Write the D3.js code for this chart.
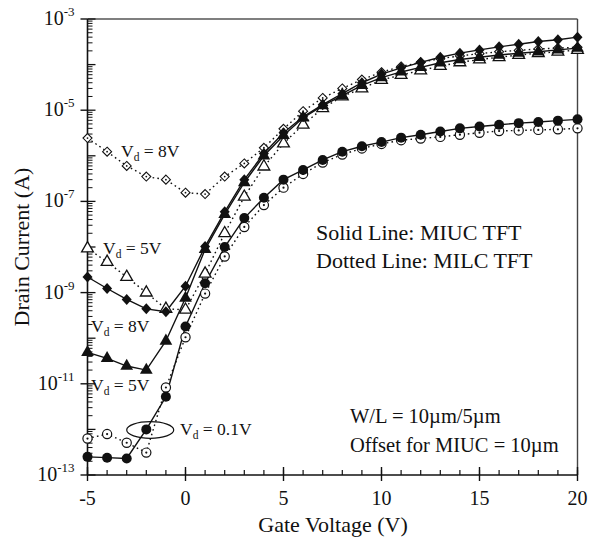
<!DOCTYPE html>
<html>
<head>
<meta charset="utf-8">
<script src="https://cdn.jsdelivr.net/npm/d3@7/dist/d3.min.js"></script>
<style>
  html, body { margin: 0; padding: 0; background: #fff; }
  svg text { font-family: "Liberation Serif", "DejaVu Serif", serif; fill: #111; }
</style>
</head>
<body>
<svg id="chart" width="590" height="541"></svg>
<script>
// Gate voltage sweep (V)
const gateVoltage = [-5,-4,-3,-2,-1,0,1,2,3,4,5,6,7,8,9,10,11,12,13,14,15,16,17,18,19,20];

// Drain current (A) — MIUC TFT (solid lines)
const miuc01 = [2.5e-13,2.4e-13,2.3e-13,1.0e-12,5.2e-12,1.8e-10,1.6e-9,1.0e-8,4.3e-8,1.2e-7,3.0e-7,4.9e-7,8.1e-7,1.23e-6,1.62e-6,2.0e-6,2.5e-6,2.9e-6,3.4e-6,4.0e-6,4.4e-6,4.8e-6,5.2e-6,5.5e-6,5.9e-6,6.3e-6];
const miuc5 = [4.9e-11,3.6e-11,2.45e-11,2.0e-11,8.7e-11,7.6e-10,8.9e-9,5.2e-8,2.6e-7,1.0e-6,2.8e-6,6.8e-6,1.26e-5,2.1e-5,3.5e-5,5.2e-5,6.9e-5,8.7e-5,1.10e-4,1.29e-4,1.45e-4,1.62e-4,1.78e-4,1.91e-4,2.1e-4,2.3e-4];
const miuc8 = [2.2e-9,1.23e-9,7.1e-10,4.4e-10,3.8e-10,1.38e-9,1.02e-8,5.9e-8,3.0e-7,1.12e-6,3.2e-6,7.2e-6,1.32e-5,2.3e-5,4.0e-5,6.2e-5,8.5e-5,1.12e-4,1.45e-4,1.78e-4,2.1e-4,2.45e-4,2.8e-4,3.2e-4,3.5e-4,4.0e-4];

// Drain current (A) — MILC TFT (dotted lines)
const milc01 = [6.3e-13,7.9e-13,5.1e-13,3.1e-13,8.3e-12,1.05e-10,9.5e-10,6.2e-9,2.75e-8,8.3e-8,2.0e-7,4.0e-7,7.1e-7,1.07e-6,1.45e-6,1.82e-6,2.2e-6,2.4e-6,2.6e-6,2.9e-6,3.2e-6,3.5e-6,3.6e-6,3.7e-6,3.8e-6,4.0e-6];
const milc5 = [9.3e-9,4.7e-9,2.2e-9,1.0e-9,4.4e-10,4.2e-10,2.6e-9,2.0e-8,1.26e-7,5.8e-7,1.86e-6,4.8e-6,1.10e-5,2.0e-5,3.0e-5,4.6e-5,5.9e-5,7.4e-5,9.3e-5,1.12e-4,1.29e-4,1.45e-4,1.62e-4,1.78e-4,1.91e-4,2.1e-4];
const milc8 = [2.45e-6,1.23e-6,6.0e-7,3.5e-7,3.0e-7,1.55e-7,1.45e-7,3.5e-7,6.8e-7,1.5e-6,3.9e-6,9.5e-6,1.86e-5,3.0e-5,4.7e-5,6.8e-5,9.1e-5,1.12e-4,1.35e-4,1.55e-4,1.74e-4,1.91e-4,2.05e-4,2.2e-4,2.3e-4,2.4e-4];

// Axis ticks
const xTicks = [-5, 0, 5, 10, 15, 20];
const yTickExponents = [-3, -5, -7, -9, -11, -13];

const series = [
  { values: milc8, marker: "diamondOpen", dotted: true },
  { values: milc5, marker: "triangleOpen", dotted: true },
  { values: milc01, marker: "circleDot", dotted: true },
  { values: miuc8, marker: "diamond", dotted: false },
  { values: miuc5, marker: "triangle", dotted: false },
  { values: miuc01, marker: "circle", dotted: false }
];

const svg = d3.select("#chart");
const ink = "#111";
const plotLeft = 87.5, plotRight = 577.5, plotTop = 19, plotBottom = 475;

const x = d3.scaleLinear().domain([-5, 20]).range([plotLeft, plotRight]);
const y = d3.scaleLog().domain([1e-13, 1e-3]).range([plotBottom, plotTop]);

// Frame: top and right borders
svg.append("line").attr("x1", plotLeft).attr("x2", plotRight).attr("y1", plotTop).attr("y2", plotTop)
  .attr("stroke", "#555").attr("stroke-width", 1.6);
svg.append("line").attr("x1", plotRight).attr("x2", plotRight).attr("y1", plotTop).attr("y2", plotBottom)
  .attr("stroke", "#444").attr("stroke-width", 1.4);

// Bottom axis: majors every 5 V crossing the line, minors every 1 V inward
const xAxisG = svg.append("g").attr("transform", `translate(0,${plotBottom})`);
xAxisG.append("line").attr("x1", plotLeft).attr("x2", plotRight).attr("stroke", ink).attr("stroke-width", 1.6);
xAxisG.selectAll(".minor").data(gateVoltage).join("line")
  .attr("x1", d => x(d)).attr("x2", d => x(d)).attr("y1", 0).attr("y2", -5)
  .attr("stroke", ink).attr("stroke-width", 1.2);
xAxisG.selectAll(".major").data(xTicks).join("line")
  .attr("x1", d => x(d)).attr("x2", d => x(d)).attr("y1", 6).attr("y2", -8)
  .attr("stroke", ink).attr("stroke-width", 1.4);
xAxisG.selectAll(".lbl").data(xTicks).join("text")
  .attr("x", d => x(d)).attr("y", 30).attr("text-anchor", "middle")
  .attr("font-size", 20).text(d => d);

// Left axis: decades and log minors inward, labelled decades outward
const yAxisG = svg.append("g").attr("transform", `translate(${plotLeft},0)`);
yAxisG.append("line").attr("y1", plotTop).attr("y2", plotBottom).attr("stroke", ink).attr("stroke-width", 1.6);
const minorVals = [];
for (let e = -13; e < -3; e++) for (let m = 2; m <= 9; m++) minorVals.push(m * Math.pow(10, e));
yAxisG.selectAll(".minor").data(minorVals).join("line")
  .attr("x1", 0).attr("x2", 5).attr("y1", d => y(d)).attr("y2", d => y(d))
  .attr("stroke", ink).attr("stroke-width", 1);
const decades = d3.range(-13, -2).map(e => Math.pow(10, e));
yAxisG.selectAll(".dec").data(decades).join("line")
  .attr("x1", 0).attr("x2", 8).attr("y1", d => y(d)).attr("y2", d => y(d))
  .attr("stroke", ink).attr("stroke-width", 1.3);
yAxisG.selectAll(".major").data(yTickExponents).join("line")
  .attr("x1", -7).attr("x2", 0).attr("y1", d => y(Math.pow(10, d))).attr("y2", d => y(Math.pow(10, d)))
  .attr("stroke", ink).attr("stroke-width", 1.4);
const yl = yAxisG.selectAll(".lbl").data(yTickExponents).join("text")
  .attr("x", -13).attr("y", d => y(Math.pow(10, d)) + 6).attr("text-anchor", "end")
  .attr("font-size", 20);
yl.append("tspan").text("10");
yl.append("tspan").attr("dy", -9).attr("font-size", 13).text(d => "-" + Math.abs(d));

// Axis titles
svg.append("text").attr("x", 333).attr("y", 532).attr("text-anchor", "middle")
  .attr("font-size", 22).text("Gate Voltage (V)");
svg.append("text").attr("transform", `translate(29,${(plotTop + plotBottom) / 2}) rotate(-90)`)
  .attr("text-anchor", "middle").attr("font-size", 22).text("Drain Current (A)");

// Curves
const line = d3.line().x((d, i) => x(gateVoltage[i])).y(d => y(d));
const plot = svg.append("g");
series.forEach(s => {
  plot.append("path").attr("d", line(s.values)).attr("fill", "none")
    .attr("stroke", ink).attr("stroke-width", 1.4)
    .attr("stroke-dasharray", s.dotted ? "1.6,3.2" : null);
});

// Markers
const triPath = d3.symbol().type(d3.symbolTriangle);
series.forEach(s => {
  const g = plot.append("g");
  s.values.forEach((v, i) => {
    const px = x(gateVoltage[i]), py = y(v);
    const p = g.append("g").attr("transform", `translate(${px},${py})`);
    switch (s.marker) {
      case "circle":
        p.append("circle").attr("r", 5).attr("fill", ink);
        break;
      case "circleDot":
        p.append("circle").attr("r", 4.6).attr("fill", "#fff").attr("stroke", ink).attr("stroke-width", 1.2);
        p.append("circle").attr("r", 1.1).attr("fill", ink);
        break;
      case "triangle":
        p.append("path").attr("d", triPath.size(70)()).attr("fill", ink);
        break;
      case "triangleOpen":
        p.append("path").attr("d", triPath.size(60)()).attr("fill", "#fff")
          .attr("stroke", ink).attr("stroke-width", 1.3);
        break;
      case "diamond":
        p.append("path").attr("d", "M0,-5.5L5,0L0,5.5L-5,0Z").attr("fill", ink);
        break;
      case "diamondOpen":
        p.append("path").attr("d", "M0,-4.5L4.5,0L0,4.5L-4.5,0Z").attr("fill", "#fff")
          .attr("stroke", ink).attr("stroke-width", 1.1);
        p.append("circle").attr("r", 0.9).attr("fill", ink);
        break;
    }
  });
});

// Curve labels
function vdLabel(px, py, value) {
  const t = svg.append("text").attr("x", px).attr("y", py).attr("font-size", 17.5);
  t.append("tspan").text("V");
  t.append("tspan").attr("font-size", 11.5).attr("dy", 4).text("d");
  t.append("tspan").attr("dy", -4).text(" = " + value);
}
vdLabel(121, 157, "8V");
vdLabel(103, 254, "5V");
vdLabel(91, 332, "8V");
vdLabel(91, 391, "5V");
vdLabel(180, 435, "0.1V");

// Ellipse around the Vd = 0.1V pair at -2 V
svg.append("ellipse").attr("cx", x(-1.8)).attr("cy", 430).attr("rx", 23.5).attr("ry", 8.3)
  .attr("fill", "none").attr("stroke", ink).attr("stroke-width", 1.2);

// Notes
const notes = [
  { text: "Solid Line: MIUC TFT", x: 316, y: 240, size: 22 },
  { text: "Dotted Line: MILC TFT", x: 316, y: 268, size: 22 },
  { text: "W/L = 10\u00b5m/5\u00b5m", x: 350, y: 423, size: 20.5 },
  { text: "Offset for MIUC = 10\u00b5m", x: 350, y: 452, size: 20.5 }
];
svg.selectAll(".note").data(notes).join("text")
  .attr("x", d => d.x).attr("y", d => d.y).attr("font-size", d => d.size).text(d => d.text);
</script>
</body>
</html>
